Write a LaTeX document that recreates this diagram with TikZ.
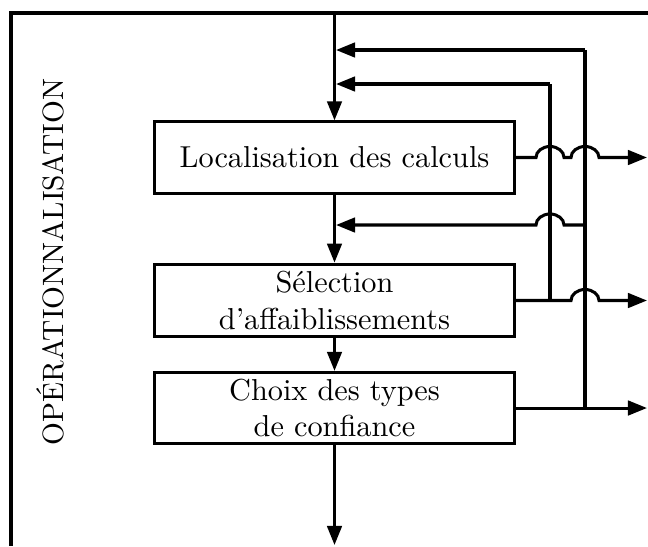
\documentclass[tikz,border=0pt]{standalone}
\usetikzlibrary{arrows.meta}
\begin{document}
\begin{tikzpicture}[x=0.33pt,y=-0.33pt, line width=1pt,
  arr/.style={-{Triangle[length=6.3pt,width=4.8pt]}},
  jump/.style={x radius=14,y radius=11},
  box/.style={draw, minimum width=118.5pt, minimum height=23.5pt, inner sep=0pt, align=center}]
\useasboundingbox (0,0) rectangle (648,546);
% frame
\coordinate (frTR) at (648,13);
\coordinate (frTL) at (11,13);
\coordinate (frBL) at (11,546);
\draw (frTR) -- (frTL) -- (frBL);
\node[rotate=90, scale=0.97] (lab) at (50,262) {OPÉRATIONNALISATION};
% boxes
\node[box] (b1) at (334.5,157.5) {Localisation des calculs};
\node[box, minimum height=24pt] (b2) at (334.5,300.5) {Sélection\\d’affaiblissements};
\node[box] (b3) at (334.5,408) {Choix des types\\de confiance};
% coordinates
\coordinate (top) at (334.5,13);
\coordinate (f1) at (585,50);
\coordinate (f1e) at (336,50);
\coordinate (f2) at (550,84);
\coordinate (f2e) at (336,84);
\coordinate (f3) at (585,225);
\coordinate (f3e) at (336,225);
\coordinate (j2) at (550,300.5);
\coordinate (j3) at (585,408);
\coordinate (o1) at (647,157.5);
\coordinate (o2) at (647,300.5);
\coordinate (o3) at (647,408);
\coordinate (bot) at (334.5,545);
% main flow
\draw[arr] (top) -- (b1.north);
\draw[arr] (b1.south) -- (b2.north);
\draw[arr] (b2.south) -- (b3.north);
\draw[arr] (b3.south) -- (bot);
% feedback verticals
\draw (f1) -- (j3);
\draw (f2) -- (j2);
% feedback arrows
\draw[arr] (f1) -- (f1e);
\draw[arr] (f2) -- (f2e);
\draw[arr] (f3) -- (564,225) arc[start angle=0,end angle=-180,jump] -- (f3e);
% outputs
\draw[arr] (b1.east) -- (536,157.5) arc[start angle=180,end angle=360,jump] -- (571,157.5) arc[start angle=180,end angle=360,jump] -- (o1);
\draw[arr] (b2.east) -- (j2) -- (571,300.5) arc[start angle=180,end angle=360,jump] -- (o2);
\draw[arr] (b3.east) -- (j3) -- (o3);
\end{tikzpicture}
\end{document}
